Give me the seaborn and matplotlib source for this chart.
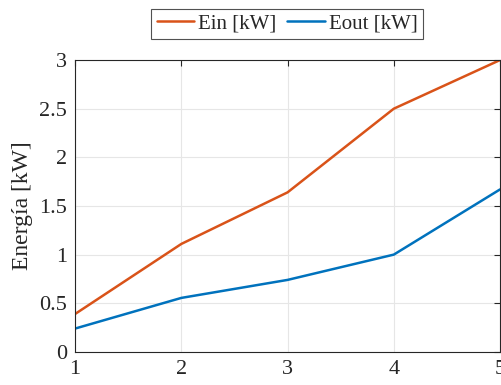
import pandas as pd
import matplotlib.pyplot as plt
import seaborn as sns

# Data
x_vals = [1, 2, 3, 4, 5]
ein_kw = [0.39, 1.11, 1.64, 2.50, 3.00]
eout_kw = [0.24, 0.555, 0.74, 1.00, 1.67]

df = pd.DataFrame({
    'x': x_vals * 2,
    'E': ein_kw + eout_kw,
    'serie': ['Ein [kW]'] * 5 + ['Eout [kW]'] * 5,
})

sns.set_style("whitegrid")
plt.rcParams['font.family'] = ['Liberation Serif', 'DejaVu Serif']

fig = plt.figure(figsize=(5.01, 3.85), dpi=100)
ax = fig.add_axes([0.150, 0.086, 0.848, 0.758])

sns.lineplot(data=df, x='x', y='E', hue='serie',
             palette={'Ein [kW]': '#D95319', 'Eout [kW]': '#0072BD'},
             linewidth=1.8, ax=ax)

ax.set_xlim(1, 5)
ax.set_ylim(0, 3)
ax.set_xticks([1, 2, 3, 4, 5])
ax.set_yticks([0, 0.5, 1, 1.5, 2, 2.5, 3])
ax.set_yticklabels(['0', '0.5', '1', '1.5', '2', '2.5', '3'])
ax.set_xlabel('')
ax.set_ylabel('Energía [kW]', fontsize=17, color='#262626')
ax.tick_params(direction='in', length=4, width=0.8, colors='#262626',
               labelsize=16, top=True, right=True, pad=6)
ax.grid(True, color='#e6e6e6', linewidth=0.8)
for s in ax.spines.values():
    s.set_color('#262626')
    s.set_linewidth(0.8)

leg = ax.legend(loc='center', bbox_to_anchor=(0.573, 0.938),
                bbox_transform=fig.transFigure, ncol=2, fontsize=15,
                frameon=True, fancybox=False, edgecolor='#262626',
                handlelength=1.8, handletextpad=0.2, columnspacing=0.5,
                borderpad=0.25, borderaxespad=0)
leg.get_frame().set_linewidth(0.8)

plt.savefig("out.png", dpi=100)
